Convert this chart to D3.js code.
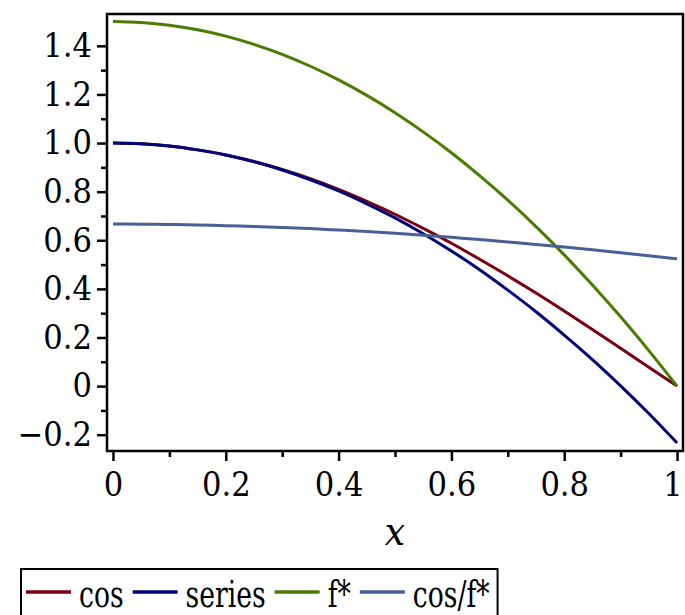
<!DOCTYPE html>
<html>
<head>
<meta charset="utf-8">
<script src="https://cdn.jsdelivr.net/npm/d3@7/dist/d3.min.js"></script>
<style>
  html, body { margin: 0; padding: 0; background: #fff; }
  svg { display: block; }
  .lbl { font-family: "DejaVu Serif Condensed", "DejaVu Serif", serif; font-stretch: condensed; }
</style>
</head>
<body>
<svg id="chart" width="685" height="615"></svg>
<script>
// ---- data ----
const xs = [0, 0.05, 0.1, 0.15, 0.2, 0.25, 0.3, 0.35, 0.4, 0.45, 0.5, 0.55, 0.6, 0.65, 0.7, 0.75, 0.8, 0.85, 0.9, 0.95, 1];
const cosVals = [1.000, 0.997, 0.988, 0.972, 0.951, 0.924, 0.891, 0.853, 0.809, 0.760, 0.707, 0.649, 0.588, 0.522, 0.454, 0.383, 0.309, 0.233, 0.156, 0.078, 0.000];
const seriesVals = [1.000, 0.997, 0.988, 0.972, 0.951, 0.923, 0.889, 0.849, 0.803, 0.750, 0.692, 0.627, 0.556, 0.479, 0.395, 0.306, 0.210, 0.109, 0.001, -0.113, -0.234];
const fstarVals = [1.500, 1.496, 1.485, 1.466, 1.440, 1.406, 1.365, 1.316, 1.260, 1.196, 1.125, 1.046, 0.960, 0.866, 0.765, 0.656, 0.540, 0.416, 0.285, 0.146, 0.000];
const ratioVals = [0.667, 0.666, 0.665, 0.663, 0.660, 0.657, 0.653, 0.648, 0.642, 0.636, 0.629, 0.621, 0.612, 0.603, 0.593, 0.583, 0.572, 0.561, 0.549, 0.536, 0.524];
const seriesNames = ["cos", "series", "f*", "cos/f*"];
const seriesColors = ["#7a0010", "#00067a", "#4a7c00", "#485f97"];
const xTicks = [0, 0.2, 0.4, 0.6, 0.8, 1];
const xMinor = [0.1, 0.3, 0.5, 0.7, 0.9];
const yTicks = [-0.2, 0, 0.2, 0.4, 0.6, 0.8, 1.0, 1.2, 1.4];
const yMinor = [-0.1, 0.1, 0.3, 0.5, 0.7, 0.9, 1.1, 1.3];
const xLabel = "x";

const allSeries = [cosVals, seriesVals, fstarVals, ratioVals];

const svg = d3.select("#chart");
const x = d3.scaleLinear().domain([-0.0106, 1.0106]).range([107, 683]);
const y = d3.scaleLinear().domain([-0.267, 1.531]).range([451, 14]);
const FS = 34;

// curves
const line = d3.line().x((d, i) => x(xs[i])).y(d => y(d)).curve(d3.curveMonotoneX);
allSeries.forEach((vals, k) => {
  svg.append("path").attr("d", line(vals)).attr("fill", "none")
    .attr("stroke", seriesColors[k]).attr("stroke-width", 3);
});

// frame
const [x0, x1] = x.range(), [y0, y1] = y.range();
svg.append("rect").attr("x", x0).attr("y", y1).attr("width", x1 - x0).attr("height", y0 - y1)
  .attr("fill", "none").attr("stroke", "#000").attr("stroke-width", 2.5);

// axes
const fmtY = d => d === 0 ? "0" : d3.format(".1f")(d);
const fmtX = d => (d === 0 || d === 1) ? d3.format("d")(d) : d3.format(".1f")(d);

const gx = svg.append("g").attr("transform", `translate(0,${y0})`)
  .call(d3.axisBottom(x).tickValues(xTicks).tickFormat(fmtX).tickSize(10).tickSizeOuter(0).tickPadding(11));
const gxm = svg.append("g").attr("transform", `translate(0,${y0})`)
  .call(d3.axisBottom(x).tickValues(xMinor).tickFormat("").tickSize(6).tickSizeOuter(0));
const gy = svg.append("g").attr("transform", `translate(${x0},0)`)
  .call(d3.axisLeft(y).tickValues(yTicks).tickFormat(fmtY).tickSize(10).tickSizeOuter(0).tickPadding(5));
const gym = svg.append("g").attr("transform", `translate(${x0},0)`)
  .call(d3.axisLeft(y).tickValues(yMinor).tickFormat("").tickSize(6).tickSizeOuter(0));

[gx, gxm, gy, gym].forEach(g => {
  g.select(".domain").remove();
  g.selectAll("line").attr("stroke", "#000").attr("stroke-width", 2.5);
  g.selectAll("text").attr("class", "lbl").attr("font-size", FS).attr("fill", "#000")
    .attr("font-family", null);
});
// keep the last x label ("1") inside the picture, as in the reference
gx.selectAll("text").filter(d => d === 1).attr("text-anchor", "end").attr("dx", "0.15em");

// x label
svg.append("text").attr("class", "lbl").attr("x", (x(0) + x(1)) / 2).attr("y", 545)
  .attr("text-anchor", "middle").attr("font-style", "italic").attr("font-size", 40).text(xLabel);

// legend
const LS = 0.8; // horizontal squeeze of legend text
const leg = svg.append("g");
const legBox = leg.append("rect").attr("x", 21).attr("y", 569).attr("height", 60)
  .attr("fill", "#fff").attr("stroke", "#000").attr("stroke-width", 2);
let cx = 26;
seriesNames.forEach((name, k) => {
  leg.append("line").attr("x1", cx).attr("x2", cx + 45).attr("y1", 592).attr("y2", 592)
    .attr("stroke", seriesColors[k]).attr("stroke-width", 3.5);
  cx += 53;
  const t = leg.append("text").attr("class", "lbl")
    .attr("transform", `translate(${cx},607) scale(${LS},1)`)
    .attr("font-size", 37).attr("fill", "#000").text(name);
  cx += t.node().getComputedTextLength() * LS + 9;
});
legBox.attr("width", cx - 21 - 1);
</script>
</body>
</html>
